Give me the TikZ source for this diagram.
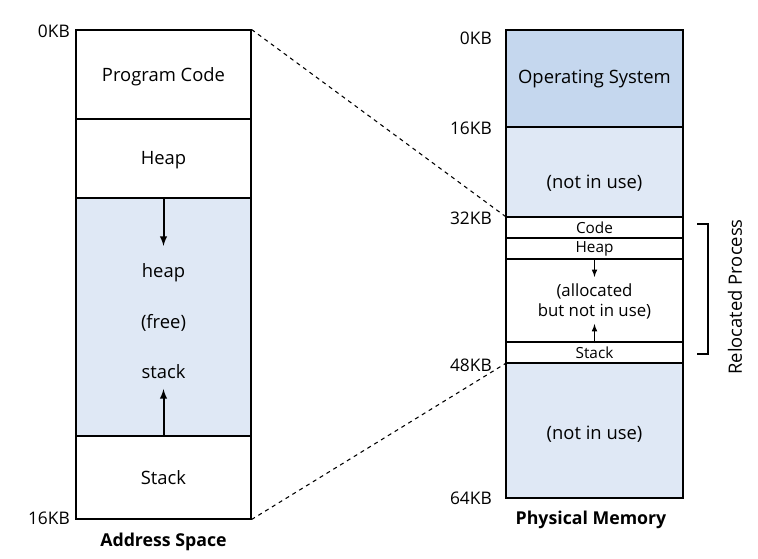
\documentclass[tikz,border=0pt]{standalone}
\usepackage{fontspec}
\setmainfont{Open Sans}
\usetikzlibrary{arrows}
\definecolor{osblue}{RGB}{197,215,238}
\definecolor{freeblue}{RGB}{223,232,245}

\begin{document}
\begin{tikzpicture}[x=0.75pt,y=0.75pt,yscale=-1,xscale=1,
  seg/.style={draw,line width=0.8pt,inner sep=0pt,minimum width=175*0.75pt},
  pseg/.style={draw,line width=0.8pt,inner sep=0pt,minimum width=177*0.75pt},
  kb/.style={anchor=east,inner sep=0pt,font=\fontsize{13}{15}\selectfont},
  txt/.style={font=\fontsize{13.8}{16}\selectfont},
  small/.style={font=\fontsize{11.5}{13}\selectfont},
  mid/.style={font=\fontsize{12.6}{14}\selectfont},
  title/.style={font=\bfseries\fontsize{13.3}{15}\selectfont}]
\useasboundingbox (0,0) rectangle (758,559);

%Address space
\node[seg,minimum height=89*0.75pt] (acode) at (163.5,74.5) {};
\node[seg,minimum height=79*0.75pt] (aheap) at (163.5,158.5) {};
\node[seg,minimum height=238*0.75pt,fill=freeblue] (afree) at (163.5,317) {};
\node[seg,minimum height=83*0.75pt] (astack) at (163.5,477.5) {};
\node[txt] (lcode) at (163.5,77) {Program Code};
\node[txt] (lheap1) at (163.5,160) {Heap};
\node[txt] (lheap) at (163.5,273) {heap};
\node[txt] (lfree) at (163.5,323) {(free)};
\node[txt] (lstack) at (163.5,372) {stack};
\node[txt] (lstack1) at (163.5,478) {Stack};
\coordinate (hdown) at (163.5,246);
\coordinate (sup) at (163.5,389);
\draw[-latex,line width=1.5pt] (afree.north) -- (hdown);
\draw[-latex,line width=1.5pt] (afree.south) -- (sup);
\node[kb] (a0) at (70,31) {0KB};
\node[kb] (a16) at (70,518) {16KB};
\node[title] (atitle) at (163.5,542) {Address Space};

%Physical memory
\node[pseg,minimum height=97*0.75pt,fill=osblue] (os) at (594.5,78.5) {};
\node[txt] (los) at (594.5,79) {Operating System};
\node[pseg,minimum height=90*0.75pt,fill=freeblue] (nu1) at (594.5,172) {};
\node[txt] (lnu1) at (594.5,183) {(not in use)};
\node[pseg,minimum height=21*0.75pt,small] (pcode) at (594.5,227.5) {Code};
\node[pseg,minimum height=21*0.75pt,small] (pheap) at (594.5,248.5) {Heap};
\node[pseg,minimum height=83*0.75pt,mid,align=center] (palloc) at (594.5,301) {(allocated\\[1pt]but not in use)};
\node[pseg,minimum height=21*0.75pt,small] (pstack) at (594.5,352.5) {Stack};
\node[pseg,minimum height=135*0.75pt,fill=freeblue] (nu2) at (594.5,430.5) {};
\node[txt] (lnu2) at (594.5,434) {(not in use)};
\coordinate (pdown) at (594.5,277);
\coordinate (pup) at (594.5,324);
\draw[-latex,line width=0.9pt] (palloc.north) -- (pdown);
\draw[-latex,line width=0.9pt] (palloc.south) -- (pup);
\node[kb] (p0) at (492,38) {0KB};
\node[kb] (p16) at (492,128) {16KB};
\node[kb] (p32) at (492,218) {32KB};
\node[kb] (p48) at (492,365) {48KB};
\node[kb] (p64) at (492,498) {64KB};
\node[title] (ptitle) at (591,520) {Physical Memory};

%Relocated process bracket
\coordinate (brtop) at (697,224);
\coordinate (brbot) at (697,354);
\draw[line width=0.8pt] (brtop) -- ++(11,0) |- (brbot);
\node[txt,rotate=90] (reloc) at (735,297) {Relocated Process};

%Mapping lines
\draw[dashed,line width=0.8pt] (acode.north east) -- (pcode.north west);
\draw[dashed,line width=0.8pt] (astack.south east) -- (pstack.south west);
\end{tikzpicture}
\end{document}
